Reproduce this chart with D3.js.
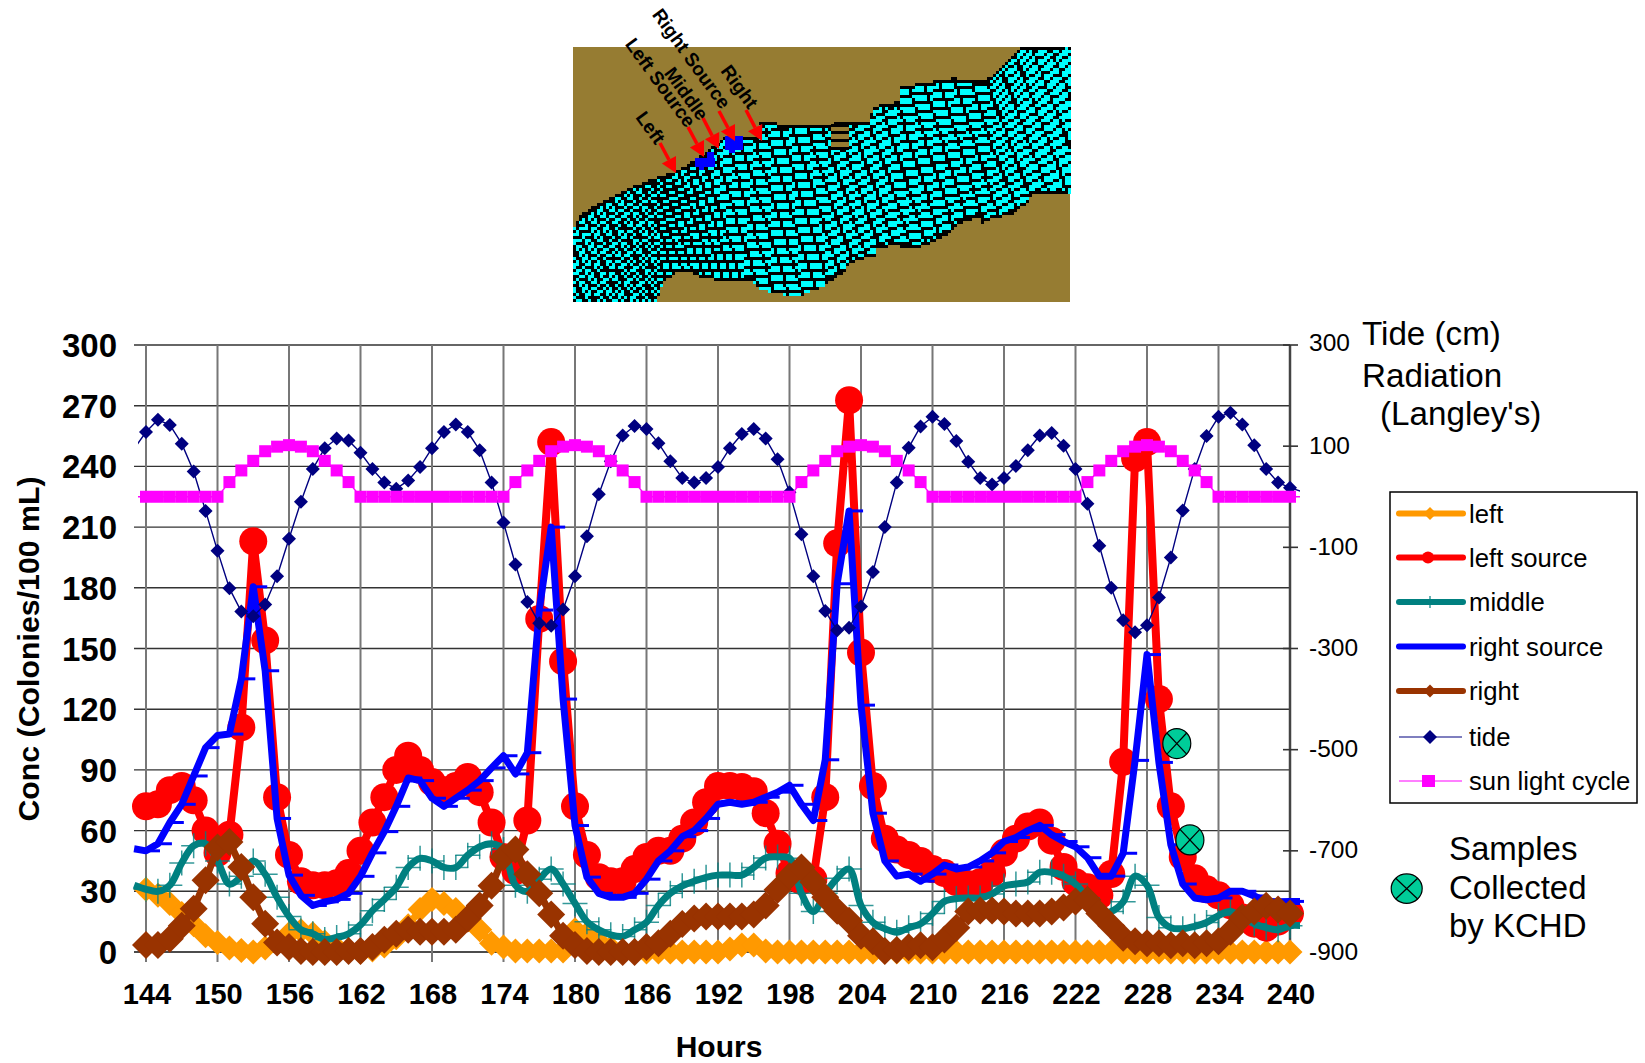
<!DOCTYPE html>
<html><head><meta charset="utf-8">
<script src="https://d3js.org/d3.v7.min.js"></script>
<style>
html,body{margin:0;padding:0;background:#fff}
svg{display:block}
text{font-family:"Liberation Sans",Arial,sans-serif;fill:#000}
</style></head><body><svg id="c" width="1645" height="1063"></svg>
<script>
const hours = d3.range(144, 241);
const xTicks = d3.range(144, 241, 6);
const yTicks = d3.range(0, 301, 30);
const y2Major = d3.range(-900, 301, 200);

const left = [
31,28,24,19,13.5,8,4.7,2,0.7,0,2,5,
9,10.5,9,5,2,0.5,0,1,3,7,13,21,
26,24,21,16,11,4.3,2.5,0.5,0.5,0.5,0.5,0.5,
11,9,5,2,0.5,0,0,0,0,0,0,0,
0,1.5,3.4,3.4,0.5,0,0,0,0,0,0,0,
0,0,0,0,0,0,0,0,0,0,0,0,
0,0,0,0,0,0,0,0,0,0,0,0,
0,0,0,0,0,0,0,0,0,0,0,0,
0];
const leftSource = [
72,73,80,82,75,60,49,58,111,203,154,76.5,
48,35,33,33,34,39,50,64,76.5,90,97,90,
84,80,82,86.5,79,64,47,40,65,164.6,252,143.6,
72,48,37,35,35,41,47,50,50,56,64,74,
82,82,81.5,79.5,68.6,53.5,39,35,36,76.5,202,272.7,
148,82,56,50.6,48,45,41,39,34.5,33.5,34.5,39,
49,56,62,64,55,42,34.5,32,28,38.5,94,244,
252,125,72,47,36.5,31,28,23,17,14,12,15,
19];
const middle = [
31,30,33,44,52.5,53.5,45,33.6,37.4,45,38.4,27,
17.6,11,9,6.2,7.2,9,13.4,20.4,26,32,41.8,46.3,
45,41.8,41.8,47.8,52,53.5,50.6,33,30,36,41,33.6,
24,15,11,8.5,7.7,11,14.7,23,29,32.7,35,36.9,
38,38,38,41.8,46.5,47,46.3,29,20,29,36.5,41,
23,14.7,11.5,9.8,12,14,19,25,26.4,26.7,26.7,28.7,
32.6,33.6,34.6,39.4,39.4,37.5,33.6,26.7,19,20,24.8,37.5,
33,17,12,11.5,12.7,14.6,18,20,17,14,12,11,
13];
const rightSource = [
50,53.5,64,73,87,101,107,107.7,135,180.5,139,66,
38,28,23,24.8,26,29,37.4,49,59.5,72,86,84.7,
76,72,76,80,84.7,91,97,88,98.5,169,210,125,
62.5,37,29,27,27,29,36,45,50,57,60,66,
73,74,73,74,76.5,79,82.4,73,65,95,182,218,
122,68.6,45,37.5,38.5,35,38.5,43,41,42,45,49,
54.6,56.6,60,62.6,58,54.6,52,46.6,37.5,37.5,48.8,94.7,
147,93.7,53,33.6,26.7,25.8,26.7,30,30,27.7,25,24.8,
25];
const right = [
3.4,3.4,6.6,13,21.4,35.5,51.6,54.4,42,27,14,4.7,
2.5,0.5,0,0,0,0.5,0.5,2.5,6,9,11,10,
10,10,11,16.6,23,32.7,47,50.6,38.4,29,18.5,8,
3.4,0.5,0,0,0,0,2.5,4.3,9,13.8,16.6,17.6,
17.6,17.6,17.6,18.5,23,30.8,37.4,41.8,34.6,27,20.4,15.5,
8,5.3,0.5,1,2.3,3.3,2.3,6.2,12,20,20.5,20.5,
20,19,19,19,20,22,25,25.8,19,13,7,5.3,
4.3,4.3,3.3,4.3,3.3,4.3,5.3,10,17,20,22.8,21,
19];
const tide = [
128,152,142,105,50,-28,-107,-181,-227,-236,-213,-157,
-83,-10,55,96,115,111,87,55,28,16,32,59,
96,128,143,128,92,28,-51,-134,-208,-250,-255,-223,
-157,-78,5,70,121,140,134,106,70,37,28,37,
59,96,124,134,115,74,9,-74,-157,-226,-264,-259,
-217,-149,-60,28,97,139,158,144,110,69,37,24,
37,61,92,121,126,101,55,-14,-97,-180,-244,-268,
-254,-199,-120,-27,55,120,158,166,143,102,55,28,
18];
const sun = [
0,0,0,0,0,0,0,29,52,71,90,99,
102,99,90,71,52,29,0,0,0,0,0,0,
0,0,0,0,0,0,0,29,52,71,90,99,
102,99,90,71,52,29,0,0,0,0,0,0,
0,0,0,0,0,0,0,29,52,71,90,99,
102,99,90,71,52,29,0,0,0,0,0,0,
0,0,0,0,0,0,0,29,52,71,90,99,
102,99,90,71,52,29,0,0,0,0,0,0,
0];
// values just outside the drawn axis range (hour 143, hour 241); the lines are cut at the plot edge
const tideEnds = [95, 10];
const sunEnds = [0, 0];
const rightSourceEnds = [51, 25];
const middleEnds = [33, 13];
const sampleHours = [230.5, 231.6];
const sampleConc = [103, 55.4];

const legendNames = ["left","left source","middle","right source","right","tide","sun light cycle"];
const colors = {left:"#ff9900",leftSource:"#ff0000",middle:"#008080",rightSource:"#0000ff",right:"#993300",tide:"#000080",sun:"#ff00ff",sample:"#00cc99"};

const svg = d3.select("#c");
const x = d3.scaleLinear().domain([144,240]).range([146,1290]);
const y = d3.scaleLinear().domain([0,300]).range([952,345]);
const y2 = d3.scaleLinear().domain([-900,300]).range([952,345]);

/* ---------- model-grid map ---------- */
const M0 = {x:573,y:47,w:497,h:255,b:3};
const riverOutline = [[39,690],[65,640],[125,605],[185,575],[270,540],[345,515],[405,480],[480,425],[490,410],[600,410],[600,365],[650,365],[660,375],[815,375],[835,365],[925,365],[945,318],[1018,305],[1018,262],[1150,240],[1180,235],[1275,240],[1320,210],[1375,150],[1385,141],[1530,141],
 [1530,585],[1415,585],[1405,605],[1360,640],[1285,660],[1265,672],[1255,650],[1180,680],[1175,700],[1075,745],[1020,745],[1015,735],[950,745],[950,765],[865,790],[860,810],[790,860],[725,885],[680,885],[625,875],[585,860],[580,845],[495,845],[450,835],[395,825],[395,815],[345,820],[310,845],[290,905],[39,905]]
 .map(p=>[560+p[0]/3,p[1]/3]);
const bankX=[39,300,500,800,1000,1300,1530].map(v=>560+v/3);
const bankTop=d3.scaleLinear().domain(bankX).range([700,530,420,370,270,230,0].map(v=>v/3));
const bankBot=d3.scaleLinear().domain(bankX).range([1100,850,870,840,745,660,560].map(v=>v/3));
const alongCells=d3.scaleLinear().domain([573,723,873,1070]).range([0,17,28,41]);
const Nv=17;
function meshCell(px,py){
  const t=bankTop(px),b=bankBot(px),mid=(t+b)/2;
  const u=alongCells(px-0.3*(py-mid)), v=(py-t)/(b-t)*Nv;
  return [Math.floor(u),Math.floor(v)];
}
const inRiver=(px,py)=>d3.polygonContains(riverOutline,[px,py]);
const nI=Math.ceil(M0.w/M0.b), nJ=Math.ceil(M0.h/M0.b);
let cyanPath="", blackPath="";
for(let j=0;j<nJ;j++){
  let run=null;
  const flush=(end)=>{ if(run){ const s=`M${M0.x+run.i*M0.b},${M0.y+j*M0.b}h${(end-run.i)*M0.b}v${M0.b}h${-(end-run.i)*M0.b}z`;
     if(run.k===1)cyanPath+=s; else if(run.k===2)blackPath+=s; run=null;} };
  for(let i=0;i<nI;i++){
    const px=M0.x+(i+.5)*M0.b, py=M0.y+(j+.5)*M0.b;
    let k=0;
    if(inRiver(px,py)){
      const c=meshCell(px,py), r=meshCell(px+M0.b,py), d=meshCell(px,py+M0.b);
      const edge=!inRiver(px,py-M0.b)||!inRiver(px,py+M0.b);
      k=(c[0]!==r[0]||c[1]!==d[1]||(edge&&py<280&&px<1065&&px>575))?2:1;
    }
    if(!run||run.k!==k){flush(i); if(k)run={i,k};}
  }
  flush(nI);
}
const gm=svg.append("g").attr("shape-rendering","crispEdges");
gm.append("rect").attr("x",M0.x).attr("y",M0.y).attr("width",M0.w).attr("height",M0.h).attr("fill","#967c32");
gm.append("path").attr("d",cyanPath).attr("fill","#00ffff");
gm.append("path").attr("d",blackPath).attr("fill","#000");
// dry patch in the mesh
const patchRows=[125,132,140,148];
gm.append("rect").attr("x",831).attr("y",125).attr("width",18).attr("height",24).attr("fill","#967c32");
gm.selectAll(".pr").data(patchRows).join("rect").attr("x",831).attr("y",d=>d-1.5).attr("width",18).attr("height",3).attr("fill","#000");
// blue source cells
const blueCells=[[695,158,20,9],[707,152,7,7],[699,167,5,3],[725,136,18,14],[729,150,6,3]];
gm.selectAll(".bc").data(blueCells).join("rect").attr("x",d=>d[0]).attr("y",d=>d[1]).attr("width",d=>d[2]).attr("height",d=>d[3]).attr("fill","#0000ff");
// arrows
const arrows=[[660,143,676,173],[688,127,704,157],[703,118,719,149],[719,111,735,141],[746,110,762,141]];
arrows.forEach(a=>{
  const dx=a[2]-a[0],dy=a[3]-a[1],L=Math.hypot(dx,dy),ux=dx/L,uy=dy/L,hl=15,hw=8;
  const bx=a[2]-ux*hl,by=a[3]-uy*hl;
  svg.append("line").attr("x1",a[0]).attr("y1",a[1]).attr("x2",bx).attr("y2",by).attr("stroke","#ff0000").attr("stroke-width",3.5);
  svg.append("path").attr("fill","#ff0000").attr("d",`M${a[2]},${a[3]}L${bx-uy*hw},${by+ux*hw}L${bx+uy*hw},${by-ux*hw}Z`);
});
const mapLabels=[["Left",650,128],["Left Source",660,83],["Middle",686,94],["Right Source",691,59],["Right",739,87]];
svg.selectAll(".ml").data(mapLabels).join("text").attr("text-anchor","middle").attr("font-weight","bold").attr("font-size",19)
  .attr("transform",d=>`translate(${d[1]},${d[2]}) rotate(54)`).attr("dy",6).text(d=>d[0]);

/* ---------- plot frame ---------- */
const gGrid=svg.append("g");
gGrid.selectAll(".h").data(yTicks).join("line").attr("x1",134).attr("x2",1290).attr("y1",d=>y(d)).attr("y2",d=>y(d))
  .attr("stroke",d=>d===0?"#111":"#333").attr("stroke-width",1.4);
gGrid.selectAll(".v").data(xTicks).join("line").attr("x1",d=>x(d)).attr("x2",d=>x(d)).attr("y1",345).attr("y2",962)
  .attr("stroke","#777").attr("stroke-width",2);
gGrid.append("line").attr("x1",1290).attr("x2",1290).attr("y1",345).attr("y2",952).attr("stroke","#444").attr("stroke-width",2.5);
gGrid.selectAll(".t2").data(y2Major).join("line").attr("x1",1283).attr("x2",1298).attr("y1",d=>y2(d)).attr("y2",d=>y2(d)).attr("stroke","#333").attr("stroke-width",1.6);

svg.selectAll(".yl").data(yTicks).join("text").attr("x",117).attr("y",d=>y(d)+12).attr("text-anchor","end").attr("font-weight","bold").attr("font-size",33).text(d=>d);
svg.selectAll(".xl").data(xTicks).join("text").attr("x",d=>x(d)+1).attr("y",1004).attr("text-anchor","middle").attr("font-weight","bold").attr("font-size",29).text(d=>d);
svg.selectAll(".y2l").data(y2Major).join("text").attr("x",1309).attr("y",d=>y2(d)+(d===300?5.5:7.5)).attr("font-size",24.5).text(d=>d);
svg.append("text").attr("transform","translate(39,649) rotate(-90)").attr("text-anchor","middle").attr("font-weight","bold").attr("font-size",30.3).text("Conc (Colonies/100 mL)");
svg.append("text").attr("x",719).attr("y",1057).attr("text-anchor","middle").attr("font-weight","bold").attr("font-size",30).text("Hours");
[["Tide (cm)",1362,345],["Radiation",1362,387],["(Langley's)",1380,425]].forEach(t=>svg.append("text").attr("x",t[1]).attr("y",t[2]).attr("font-size",33.2).text(t[0]));
[["Samples",859.6],["Collected",899],["by KCHD",937]].forEach(t=>svg.append("text").attr("x",1449).attr("y",t[1]).attr("font-size",33).text(t[0]));

/* ---------- series ---------- */
const defs=svg.append("defs");
defs.append("clipPath").attr("id","pc").append("rect").attr("x",132).attr("y",300).attr("width",1168).attr("height",700);
defs.append("clipPath").attr("id","pt").append("rect").attr("x",138).attr("y",300).attr("width",1162).attr("height",700);
const pts=(arr,scale)=>arr.map((v,i)=>[x(hours[i]),scale(v)]);
const withEnds=(arr,ends,scale)=>[[x(143),scale(ends[0])],...pts(arr,scale),[x(241),scale(ends[1])]];
const diamond=r=>`M0,${-r}L${r},0L0,${r}L${-r},0Z`;
const lineLin=d3.line();
const lineSmooth=d3.line().curve(d3.curveCatmullRom.alpha(0.5));
function drawLine(p,color,w,gen,clip){
  const g=svg.append("g"); if(clip)g.attr("clip-path",`url(#${clip})`);
  g.append("path").attr("d",gen(p)).attr("fill","none").attr("stroke",color).attr("stroke-width",w).attr("stroke-linejoin","round");
}
function drawDiamonds(p,color,r){
  svg.append("g").selectAll("path").data(p).join("path").attr("transform",d=>`translate(${d[0]},${d[1]})`).attr("d",diamond(r)).attr("fill",color);
}
// left
const pL=pts(left,y); drawLine(pL,colors.left,7,lineLin); drawDiamonds(pL,colors.left,12.5);
// left source
const pLS=pts(leftSource,y); drawLine(pLS,colors.leftSource,8,lineLin);
svg.append("g").selectAll("circle").data(pLS).join("circle").attr("cx",d=>d[0]).attr("cy",d=>d[1]).attr("r",14).attr("fill",colors.leftSource);
// middle
drawLine(withEnds(middle,middleEnds,y),colors.middle,7,lineSmooth,"pc");
svg.append("g").selectAll("path").data(pts(middle,y)).join("path").attr("d",d=>`M${d[0]-12.5},${d[1]}h25M${d[0]},${d[1]-12.5}v25`).attr("stroke",colors.middle).attr("stroke-width",1.5).attr("opacity",.8).attr("fill","none");
// right source
drawLine(withEnds(rightSource,rightSourceEnds,y),colors.rightSource,7,lineLin,"pc");
svg.append("g").selectAll("line").data(pts(rightSource,y)).join("line").attr("x1",d=>d[0]).attr("x2",d=>d[0]+14).attr("y1",d=>d[1]).attr("y2",d=>d[1]).attr("stroke",colors.rightSource).attr("stroke-width",3);
// right
const pR=pts(right,y); drawLine(pR,colors.right,7,lineLin); drawDiamonds(pR,colors.right,14);
// tide
drawLine(withEnds(tide,tideEnds,y2),colors.tide,1.4,lineLin,"pt"); drawDiamonds(pts(tide,y2),colors.tide,7);
// sun
const pS=pts(sun,y2); drawLine(withEnds(sun,sunEnds,y2),colors.sun,1.4,lineLin,"pt");
svg.append("g").selectAll("rect").data(pS).join("rect").attr("x",d=>d[0]-6).attr("y",d=>d[1]-6).attr("width",12).attr("height",12).attr("fill",colors.sun);

// sample circles
function xCircle(g,cx,cy,rx,ry){
  const n=g.append("g").attr("transform",`translate(${cx},${cy})`);
  n.append("ellipse").attr("rx",rx).attr("ry",ry).attr("fill",colors.sample).attr("stroke","#000").attr("stroke-width",1.2);
  const c=Math.SQRT1_2;
  n.append("path").attr("d",`M${-rx*c},${-ry*c}L${rx*c},${ry*c}M${-rx*c},${ry*c}L${rx*c},${-ry*c}`).attr("stroke","#000").attr("stroke-width",1.2);
}
sampleHours.forEach((h,i)=>xCircle(svg,x(h),y(sampleConc[i]),14,15));
xCircle(svg,1406.7,888.6,15.5,14.7);

/* ---------- legend ---------- */
const lg=svg.append("g");
lg.append("rect").attr("x",1390).attr("y",492).attr("width",247).attr("height",311).attr("fill","#fff").attr("stroke","#000").attr("stroke-width",1.5);
const rowY=[513.5,557.5,602,646.5,691,737,781];
const rowColor=[colors.left,colors.leftSource,colors.middle,colors.rightSource,colors.right,colors.tide,colors.sun];
legendNames.forEach((n,i)=>{
  const ry=rowY[i], thick=i<5, cx=1430;
  lg.append("line").attr("x1",1399).attr("x2",thick?1463:1462).attr("y1",ry).attr("y2",ry).attr("stroke",rowColor[i]).attr("stroke-width",thick?6:1.2).attr("stroke-linecap",thick?"round":"butt");
  if(i===0||i===4||i===5) lg.append("path").attr("transform",`translate(${cx},${ry})`).attr("d",diamond(i===5?7:6.5)).attr("fill",rowColor[i]);
  if(i===1) lg.append("circle").attr("cx",1428).attr("cy",ry).attr("r",6).attr("fill",rowColor[i]);
  if(i===2) lg.append("line").attr("x1",cx).attr("x2",cx).attr("y1",ry-6).attr("y2",ry+6).attr("stroke",rowColor[i]).attr("stroke-width",1.2);
  if(i===6) lg.append("rect").attr("x",1422).attr("y",ry-6).attr("width",13).attr("height",12).attr("fill",rowColor[i]);
  lg.append("text").attr("x",1469).attr("y",ry+9).attr("font-size",25.7).text(n);
});
</script></body></html>
